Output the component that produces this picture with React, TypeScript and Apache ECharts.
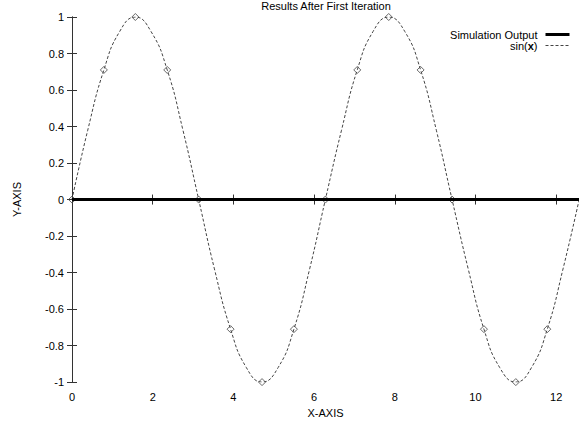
import React, { useEffect, useRef } from "react";
import * as echarts from "echarts";

const titleText = "Results After First Iteration";
const xAxisName = "X-AXIS";
const yAxisName = "Y-AXIS";
const legendNames = ["Simulation Output", "sin(x)"];

// sin(x) curve samples (x in radians)
const curveX = [0, 0.39, 0.79, 1.18, 1.57, 1.96, 2.36, 2.75, 3.14, 3.53, 3.93, 4.32, 4.71, 5.11, 5.5, 5.89, 6.28, 6.68, 7.07, 7.46, 7.85, 8.25, 8.64, 9.03, 9.42, 9.82, 10.21, 10.6, 11.0, 11.39, 11.78, 12.17, 12.57];
const curveY = [0, 0.38, 0.71, 0.92, 1, 0.92, 0.71, 0.38, 0, -0.38, -0.71, -0.92, -1, -0.92, -0.71, -0.38, 0, 0.38, 0.71, 0.92, 1, 0.92, 0.71, 0.38, 0, -0.38, -0.71, -0.92, -1, -0.92, -0.71, -0.38, 0];

// marked points
const markX = [0, 0.79, 1.57, 2.36, 3.14, 3.93, 4.71, 5.5, 6.28, 7.07, 7.85, 8.64, 9.42, 10.21, 11.0, 11.78, 12.57];
const markY = [0, 0.71, 1, 0.71, 0, -0.71, -1, -0.71, 0, 0.71, 1, 0.71, 0, -0.71, -1, -0.71, 0];

// simulation output
const simX = [0, 12.57];
const simY = [0, 0];

const xMin = 0;
const xMax = 12.566;
const xInterval = 2;
const yMin = -1;
const yMax = 1;
const yInterval = 0.2;

const FONT = "'Liberation Sans', Arial, Helvetica, sans-serif";

export default function App() {
  const ref = useRef<HTMLDivElement>(null);
  useEffect(() => {
    if (!ref.current) return;
    const chart = echarts.init(ref.current, null, { renderer: "svg" });
    const axisLineStyle = { color: "#333", width: 1 };
    const richBase = { fontFamily: FONT, fontSize: 11, color: "#000", lineHeight: 11 };
    const option: any = {
      animation: false,
      backgroundColor: "#ffffff",
      textStyle: { fontFamily: FONT },
      title: {
        text: titleText,
        left: 326,
        textAlign: "center",
        top: 0,
        padding: 0,
        textStyle: { fontFamily: FONT, fontSize: 11, fontWeight: "normal", color: "#000" },
      },
      legend: {
        orient: "vertical",
        align: "right",
        right: 8,
        top: 29,
        padding: 0,
        itemWidth: 24,
        itemHeight: 10,
        itemGap: 0,
        itemStyle: { opacity: 0 },
        formatter: (name: string) =>
          name === "sin(x)" ? "{n|sin(}{b|x}{p|)}" : "{p|" + name + "}",
        textStyle: {
          fontFamily: FONT,
          fontSize: 11,
          lineHeight: 11,
          color: "#000",
          rich: {
            n: { ...richBase },
            b: { ...richBase, fontWeight: "bold" },
            p: { ...richBase, padding: [0, 3, 0, 0] },
          },
        },
        data: [
          { name: legendNames[0], lineStyle: { width: 3, color: "#000" } },
          { name: legendNames[1], lineStyle: { width: 1, color: "#444", type: [3, 2] } },
        ],
      },
      grid: { left: 72, top: 17, width: 509, height: 371, containLabel: false },
      xAxis: [
        {
          type: "value",
          min: xMin,
          max: xMax,
          interval: xInterval,
          name: xAxisName,
          nameLocation: "middle",
          nameGap: 22,
          nameTextStyle: { fontFamily: FONT, fontSize: 11, color: "#000" },
          axisLine: { show: true, lineStyle: axisLineStyle },
          axisTick: { show: true, inside: true, length: 5, lineStyle: axisLineStyle },
          axisLabel: { showMaxLabel: false, margin: 9, fontFamily: FONT, fontSize: 11, color: "#000" },
          splitLine: { show: false },
        },
        {
          type: "value",
          position: "top",
          min: xMin,
          max: xMax,
          interval: xInterval,
          axisLine: { show: true, lineStyle: axisLineStyle },
          axisTick: { show: true, inside: true, length: 5, lineStyle: axisLineStyle },
          axisLabel: { show: false },
          splitLine: { show: false },
        },
      ],
      yAxis: [
        {
          type: "value",
          min: yMin,
          max: yMax,
          interval: yInterval,
          name: yAxisName,
          nameLocation: "middle",
          nameGap: 50,
          nameTextStyle: { fontFamily: FONT, fontSize: 11, color: "#000" },
          axisLine: { show: true, lineStyle: axisLineStyle },
          axisTick: { show: true, inside: true, length: 5, lineStyle: axisLineStyle },
          axisLabel: { margin: 8, fontFamily: FONT, fontSize: 11, color: "#000" },
          splitLine: { show: false },
        },
        {
          type: "value",
          position: "right",
          min: yMin,
          max: yMax,
          interval: yInterval,
          axisLine: { show: true, lineStyle: axisLineStyle },
          axisTick: { show: true, inside: true, length: 5, lineStyle: axisLineStyle },
          axisLabel: { show: false },
          splitLine: { show: false },
        },
      ],
      series: [
        {
          name: "sin(x)",
          type: "line",
          smooth: true,
          symbol: "none",
          data: curveX.map((x, i) => [x, curveY[i]]),
          lineStyle: { color: "#444", width: 1, type: [3, 2] },
          itemStyle: { color: "#444" },
          z: 2,
        },
        {
          name: "marks",
          type: "scatter",
          symbol: "diamond",
          symbolSize: 7,
          data: markX.map((x, i) => [x, markY[i]]),
          itemStyle: { color: "rgba(255,255,255,0)", borderColor: "#444", borderWidth: 1 },
          z: 3,
        },
        {
          name: "Simulation Output",
          type: "line",
          symbol: "none",
          data: simX.map((x, i) => [x, simY[i]]),
          lineStyle: { color: "#000", width: 3 },
          itemStyle: { color: "#000" },
          z: 4,
        },
      ],
    };
    chart.setOption(option);
    return () => chart.dispose();
  }, []);
  return <div ref={ref} style={{ width: 579, height: 423, position: "absolute", left: 0, top: 0 }} />;
}
